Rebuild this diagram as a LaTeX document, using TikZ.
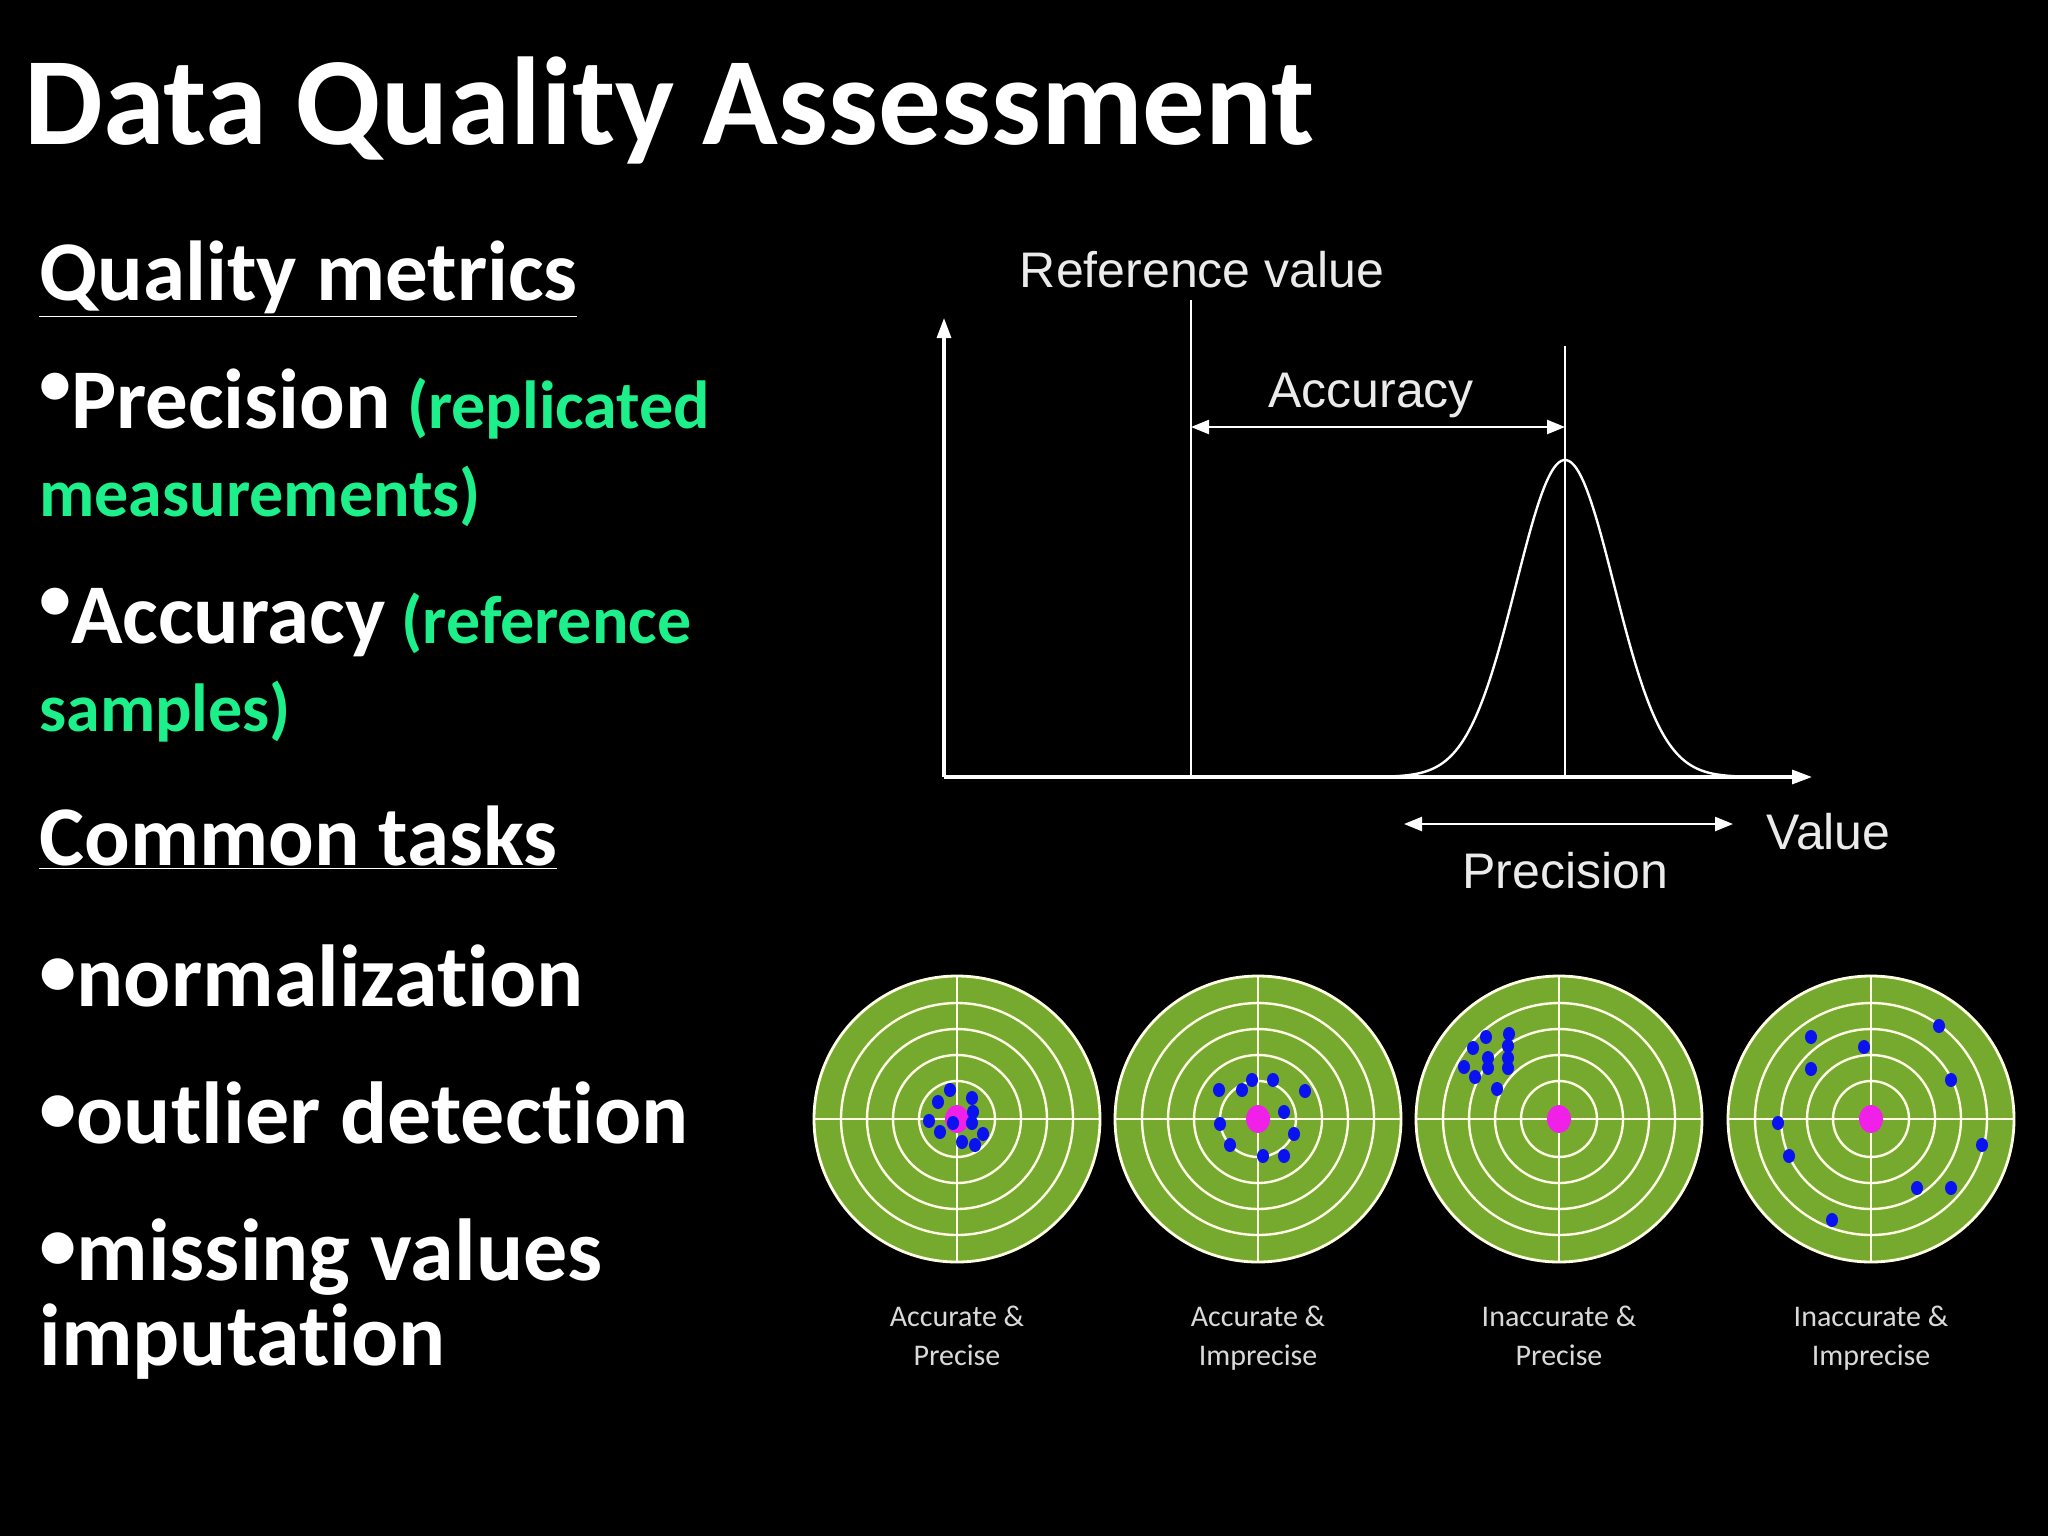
\documentclass[tikz,border=0pt]{standalone}
\usepackage{fontspec}
\setmainfont{Carlito}
\newfontfamily\gsans{Liberation Sans}
\usetikzlibrary{arrows.meta}
\definecolor{grn}{HTML}{1DF08B}
\definecolor{tgt}{HTML}{76AA2E}
\definecolor{mag}{HTML}{F020E8}
\definecolor{dotb}{HTML}{0A12F0}
\newcommand{\bul}{\raisebox{0.28em}{\scalebox{0.75}{\textbullet}}}
\newcommand{\tbul}{\raisebox{0.12em}{\scalebox{0.85}{\textbullet}}}
\begin{document}
\begin{tikzpicture}[x=0.5pt,y=-0.5pt,
  txt/.style={anchor=base west,inner sep=0,text=white},
  head/.style={txt,font=\fontsize{42.5}{46}\selectfont\bfseries},
  note/.style={anchor=base west,inner sep=0,text=grn,font=\fontsize{34}{38}\selectfont\bfseries},
  task/.style={txt,font=\fontsize{44}{48}\selectfont\bfseries},
  gl/.style={anchor=base,inner sep=0,text=white!92!black,font=\gsans\fontsize{25}{28}\selectfont},
  axis/.style={white,line width=1.6pt},
  arr/.style={white,line width=1.2pt,{Triangle[length=9pt,width=7pt]}-{Triangle[length=9pt,width=7pt]}},
  lbl/.style={anchor=base,inner sep=0,text=white!85!black,font=\fontsize{15}{18}\selectfont},
  dt/.style={fill=dotb,draw=none}]
\fill[black] (0,0) rectangle (2048,1536);
\useasboundingbox (0,0) rectangle (2048,1536);
% text
\node[txt,font=\fontsize{62.5}{66}\selectfont\bfseries] (title) at (24,144) {Data Quality Assessment};
\node[head] (qm) at (39,300) {\underline{Quality metrics}};
\node[head] (p1) at (39,428) {\bul Precision};
\node[note] (p1n) at (p1.base east) {\ (replicated};
\node[note] (p2) at (39,516) {measurements)};
\node[head] (a1) at (39,643) {\bul Accuracy};
\node[note] (a1n) at (a1.base east) {\ (reference};
\node[note] (a2) at (39,731) {samples)};
\node[head] (ct) at (39,865) {\underline{Common tasks}};
\node[task] (t1) at (39,1006) {\tbul normalizat\kern0pt ion};
\node[task] (t2) at (39,1143) {\tbul outlier detect\kern0pt ion};
\node[task] (t3) at (39,1280) {\tbul missing values};
\node[task] (t4) at (39,1365) {imputat\kern0pt ion};
% graph
\coordinate (o) at (944,777);
\coordinate (ytop) at (944,318);
\coordinate (xend) at (1812,777);
\draw[axis,-{Triangle[length=10pt,width=7pt]}] (o) -- (ytop);
\draw[axis,-{Triangle[length=10pt,width=7pt]}] (o) -- (xend);
\coordinate (rtop) at (1191,300); \coordinate (rbot) at (1191,777);
\coordinate (ptop) at (1565,346); \coordinate (pbot) at (1565,777);
\draw[white,line width=1.4pt] (rtop) -- (rbot);
\draw[white,line width=1.4pt] (ptop) -- (pbot);
\coordinate (accL) at (1191,427); \coordinate (accR) at (1565,427);
\draw[arr] (accL) -- (accR);
\coordinate (preL) at (1404,824); \coordinate (preR) at (1733,824);
\draw[arr] (preL) -- (preR);
\draw[white,line width=1.2pt] plot[domain=1300:1800,samples=200,smooth] (\x,{777-317*exp(-((\x-1565)/49)^2/2)});
\node[gl] (rv) at (1202,287) {Reference value};
\node[gl] (acc) at (1371,407) {Accuracy};
\node[gl] (prec) at (1565,888) {Precision};
\node[gl,anchor=base west] (val) at (1766,849) {Value};
% targets
\foreach \cx/\nm in {957/a,1258/b,1559/c,1871/d}{
  \begin{scope}[shift={(\cx,1119)}]
  \fill[tgt] (0,0) circle[radius=143];
  \draw[white!90!yellow,line width=1.4pt] (0,0) circle[radius=143];
  \foreach \r in {38,64,90,116} \draw[white!90!yellow,line width=1.2pt] (0,0) circle[radius=\r];
  \draw[white!90!yellow,line width=1.2pt] (-143,0) -- (143,0) (0,-143) -- (0,143);
  \fill[mag] (0,0) ellipse[x radius=12,y radius=14];
  \end{scope}
}
\begin{scope}[shift={(957,1119)}]
\foreach \x/\y in {-7/-29,-19/-17,15/-21,16/-7,-28/2,-4/4,15/4,-17/13,26/15,5/23,18/26}
  \fill[dt] (\x,\y) ellipse[x radius=6,y radius=7];
\end{scope}
\begin{scope}[shift={(1258,1119)}]
\foreach \x/\y in {-39/-29,-16/-29,-6/-39,15/-39,47/-28,26/-7,-38/5,36/15,-28/26,5/37,26/37}
  \fill[dt] (\x,\y) ellipse[x radius=6,y radius=7];
\end{scope}
\begin{scope}[shift={(1559,1119)}]
\foreach \x/\y in {-73/-82,-50/-85,-86/-71,-51/-73,-71/-61,-51/-61,-95/-52,-71/-51,-51/-51,-84/-42,-62/-30}
  \fill[dt] (\x,\y) ellipse[x radius=6,y radius=7];
\end{scope}
\begin{scope}[shift={(1871,1119)}]
\foreach \x/\y in {-60/-82,68/-93,-7/-72,-60/-50,80/-39,-93/4,111/26,-82/37,46/69,80/69,-39/101}
  \fill[dt] (\x,\y) ellipse[x radius=6,y radius=7];
\end{scope}
\node[lbl] (c1a) at (957,1326) {Accurate \&};
\node[lbl] (c1b) at (957,1365) {Precise};
\node[lbl] (c2a) at (1258,1326) {Accurate \&};
\node[lbl] (c2b) at (1258,1365) {Imprecise};
\node[lbl] (c3a) at (1559,1326) {Inaccurate \&};
\node[lbl] (c3b) at (1559,1365) {Precise};
\node[lbl] (c4a) at (1871,1326) {Inaccurate \&};
\node[lbl] (c4b) at (1871,1365) {Imprecise};
\end{tikzpicture}
\end{document}
